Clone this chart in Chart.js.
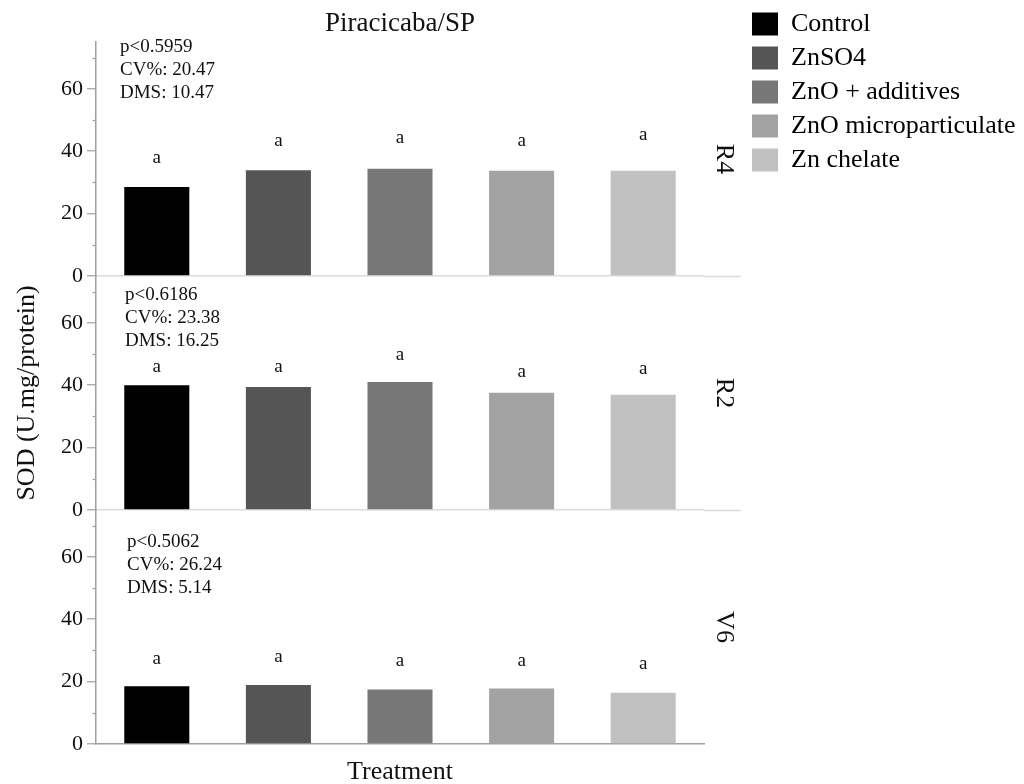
<!DOCTYPE html>
<html>
<head>
<meta charset="utf-8">
<title>SOD – Piracicaba/SP</title>
<script src="https://cdn.jsdelivr.net/npm/chart.js@4.4.1/dist/chart.umd.min.js"></script>
<style>
  html, body { margin: 0; padding: 0; background: #ffffff; }
  #chart { display: block; }
</style>
</head>
<body>
<canvas id="chart" width="1024" height="784"></canvas>
<script>
// ---- data -------------------------------------------------------------
const treatments = ['Control', 'ZnSO4', 'ZnO + additives', 'ZnO microparticulate', 'Zn chelate'];
const treatmentColors = ['#000000', '#555555', '#777777', '#a3a3a3', '#c1c1c1'];

const stages = ['R4', 'R2', 'V6'];

// SOD activity (U.mg/protein) per treatment, one array per growth stage
const sodR4 = [28.5, 33.9, 34.4, 33.7, 33.7];
const sodR2 = [40.0, 39.4, 41.0, 37.6, 36.9];
const sodV6 = [18.5, 18.9, 17.5, 17.8, 16.4];

// Tukey grouping letters and the level (U.mg/protein) each one sits at
const lettersR4 = ['a', 'a', 'a', 'a', 'a'];
const lettersR2 = ['a', 'a', 'a', 'a', 'a'];
const lettersV6 = ['a', 'a', 'a', 'a', 'a'];
const letterLevelR4 = [38.2, 43.7, 44.4, 43.7, 45.6];
const letterLevelR2 = [46.0, 46.0, 50.0, 44.6, 45.4];
const letterLevelV6 = [27.6, 28.1, 27.0, 27.0, 25.9];

// ANOVA summary per stage
const statsR4 = ['p<0.5959', 'CV%: 20.47', 'DMS: 10.47'];
const statsR2 = ['p<0.6186', 'CV%: 23.38', 'DMS: 16.25'];
const statsV6 = ['p<0.5062', 'CV%: 26.24', 'DMS: 5.14'];

// y axis: labelled ticks every 20, minor marks in between
const yTickValues = [0, 10, 20, 30, 40, 50, 60, 70];
const yMax = 75;

// ---- layout / style ---------------------------------------------------
const SERIF = '"Liberation Serif", "Times New Roman", Times, serif';
const AXIS_GREY = '#a0a0a0';
const ZERO_GREY = '#dcdcdc';
const TEXT = '#111111';

Chart.defaults.font.family = SERIF;
Chart.defaults.color = TEXT;

const panels = [
  { stage: stages[0], axis: 'yR4', values: sodR4, letters: lettersR4, letterAt: letterLevelR4, stats: statsR4, statsTop: 73.4, statsDx: 24, zeroLine: true },
  { stage: stages[1], axis: 'yR2', values: sodR2, letters: lettersR2, letterAt: letterLevelR2, stats: statsR2, statsTop: 68.8, statsDx: 29, zeroLine: true },
  { stage: stages[2], axis: 'yV6', values: sodV6, letters: lettersV6, letterAt: letterLevelV6, stats: statsV6, statsTop: 64.8, statsDx: 31, zeroLine: false }
];

function valueAxis(panel, withTitle) {
  return {
    type: 'linear',
    position: 'left',
    stack: 'sod',
    stackWeight: 1,
    min: 0,
    max: yMax,
    afterBuildTicks: (scale) => { scale.ticks = yTickValues.map(v => ({ value: v })); },
    ticks: {
      includeBounds: false,
      padding: 4,
      color: TEXT,
      font: { size: 22 },
      callback: (v) => (v % 20 === 0 ? String(v) : '')
    },
    grid: {
      drawOnChartArea: true,
      lineWidth: 1.5,
      color: (ctx) => (panel.zeroLine && ctx.tick && ctx.tick.value === 0 ? ZERO_GREY : 'rgba(0,0,0,0)'),
      tickLength: 9,
      tickWidth: 1.2,
      tickColor: (ctx) => (ctx.tick && ctx.tick.value % 20 === 0 ? AXIS_GREY : 'rgba(0,0,0,0)')
    },
    border: { display: true, color: AXIS_GREY, width: 1.5 },
    title: {
      display: withTitle,
      text: 'SOD (U.mg/protein)',
      color: TEXT,
      font: { size: 26 },
      padding: { top: 12, bottom: 0 }
    },
    afterFit: (scale) => { scale.width = 96; }
  };
}

function stageAxis(panel) {
  return {
    type: 'linear',
    position: 'right',
    stack: 'stage',
    stackWeight: 1,
    min: 0,
    max: yMax,
    afterBuildTicks: (scale) => { scale.ticks = [{ value: 0 }]; },
    ticks: { display: false },
    grid: {
      drawOnChartArea: false,
      drawTicks: true,
      tickLength: 37,
      tickWidth: 1.5,
      tickColor: panel.zeroLine ? ZERO_GREY : 'rgba(0,0,0,0)'
    },
    border: { display: false },
    title: {
      display: true,
      text: panel.stage,
      color: TEXT,
      font: { size: 26 },
      padding: { top: 5, bottom: 0 }
    },
    afterFit: (scale) => { scale.width = 40; }
  };
}

// left axes: the last one listed sits on top; right axes: the first one listed sits on top
const scales = {
  x: {
    type: 'category',
    labels: treatments,
    offset: true,
    position: 'bottom',
    ticks: { display: false },
    grid: { display: false, drawTicks: false },
    border: { display: true, color: AXIS_GREY, width: 1.5 },
    title: {
      display: true,
      text: 'Treatment',
      color: TEXT,
      font: { size: 26, lineHeight: 0.9 },
      padding: { top: 16.6, bottom: 0 }
    }
  },
  yV6: valueAxis(panels[2], false),
  yR2: valueAxis(panels[1], true),
  yR4: valueAxis(panels[0], false),
  sR4: stageAxis(panels[0]),
  sR2: stageAxis(panels[1]),
  sV6: stageAxis(panels[2])
};

const datasets = panels.map(p => ({
  label: p.stage,
  data: p.values,
  yAxisID: p.axis,
  backgroundColor: treatmentColors,
  borderWidth: 0,
  grouped: false,
  categoryPercentage: 1,
  barPercentage: 0.535
}));

// letters, ANOVA text and the short minor tick marks
const panelText = {
  id: 'panelText',
  beforeLayout(chart) {
    const legend = chart.legend;
    if (legend && !legend._fixedWidth) {
      const fit = legend.fit;
      legend.fit = function () { fit.call(this); this.width = 280; };
      legend._fixedWidth = true;
    }
  },
  afterDatasetsDraw(chart) {
    const ctx = chart.ctx;
    const xs = chart.scales.x;
    ctx.save();
    ctx.fillStyle = TEXT;
    ctx.font = '19px ' + SERIF;
    panels.forEach(p => {
      const ys = chart.scales[p.axis];
      ctx.textAlign = 'center';
      ctx.textBaseline = 'alphabetic';
      p.letters.forEach((l, i) => {
        ctx.fillText(l, xs.getPixelForValue(i), ys.getPixelForValue(p.letterAt[i]) + 6);
      });
      ctx.textAlign = 'left';
      ctx.textBaseline = 'middle';
      const top = ys.getPixelForValue(p.statsTop);
      p.stats.forEach((s, j) => {
        ctx.fillText(s, chart.chartArea.left + p.statsDx, top + j * 23);
      });
    });
    ctx.restore();
  },
  afterDraw(chart) {
    const ctx = chart.ctx;
    ctx.save();
    ctx.strokeStyle = AXIS_GREY;
    ctx.lineWidth = 1.2;
    panels.forEach(p => {
      const ys = chart.scales[p.axis];
      yTickValues.filter(v => v % 20 !== 0).forEach(v => {
        const y = Math.round(ys.getPixelForValue(v)) + 0.5;
        ctx.beginPath();
        ctx.moveTo(ys.right - 3.5, y);
        ctx.lineTo(ys.right, y);
        ctx.stroke();
      });
    });
    ctx.restore();
  }
};

new Chart(document.getElementById('chart'), {
  type: 'bar',
  data: { labels: treatments, datasets },
  options: {
    responsive: false,
    devicePixelRatio: 1,
    animation: false,
    layout: { padding: { top: 3, right: 0, bottom: 0, left: 0 } },
    scales,
    plugins: {
      title: {
        display: true,
        text: 'Piracicaba/SP',
        fullSize: false,
        color: TEXT,
        font: { size: 27, weight: 'normal' },
        padding: { top: 5, bottom: 1.6 }
      },
      legend: {
        position: 'right',
        align: 'start',
        labels: {
          boxWidth: 26,
          boxHeight: 23,
          padding: 8,
          color: TEXT,
          font: { size: 26 },
          generateLabels: () => treatments.map((t, i) => ({
            text: t,
            fillStyle: treatmentColors[i],
            strokeStyle: treatmentColors[i],
            lineWidth: 0,
            hidden: false,
            index: i
          }))
        }
      },
      tooltip: { enabled: false }
    }
  },
  plugins: [panelText]
});
</script>
</body>
</html>
